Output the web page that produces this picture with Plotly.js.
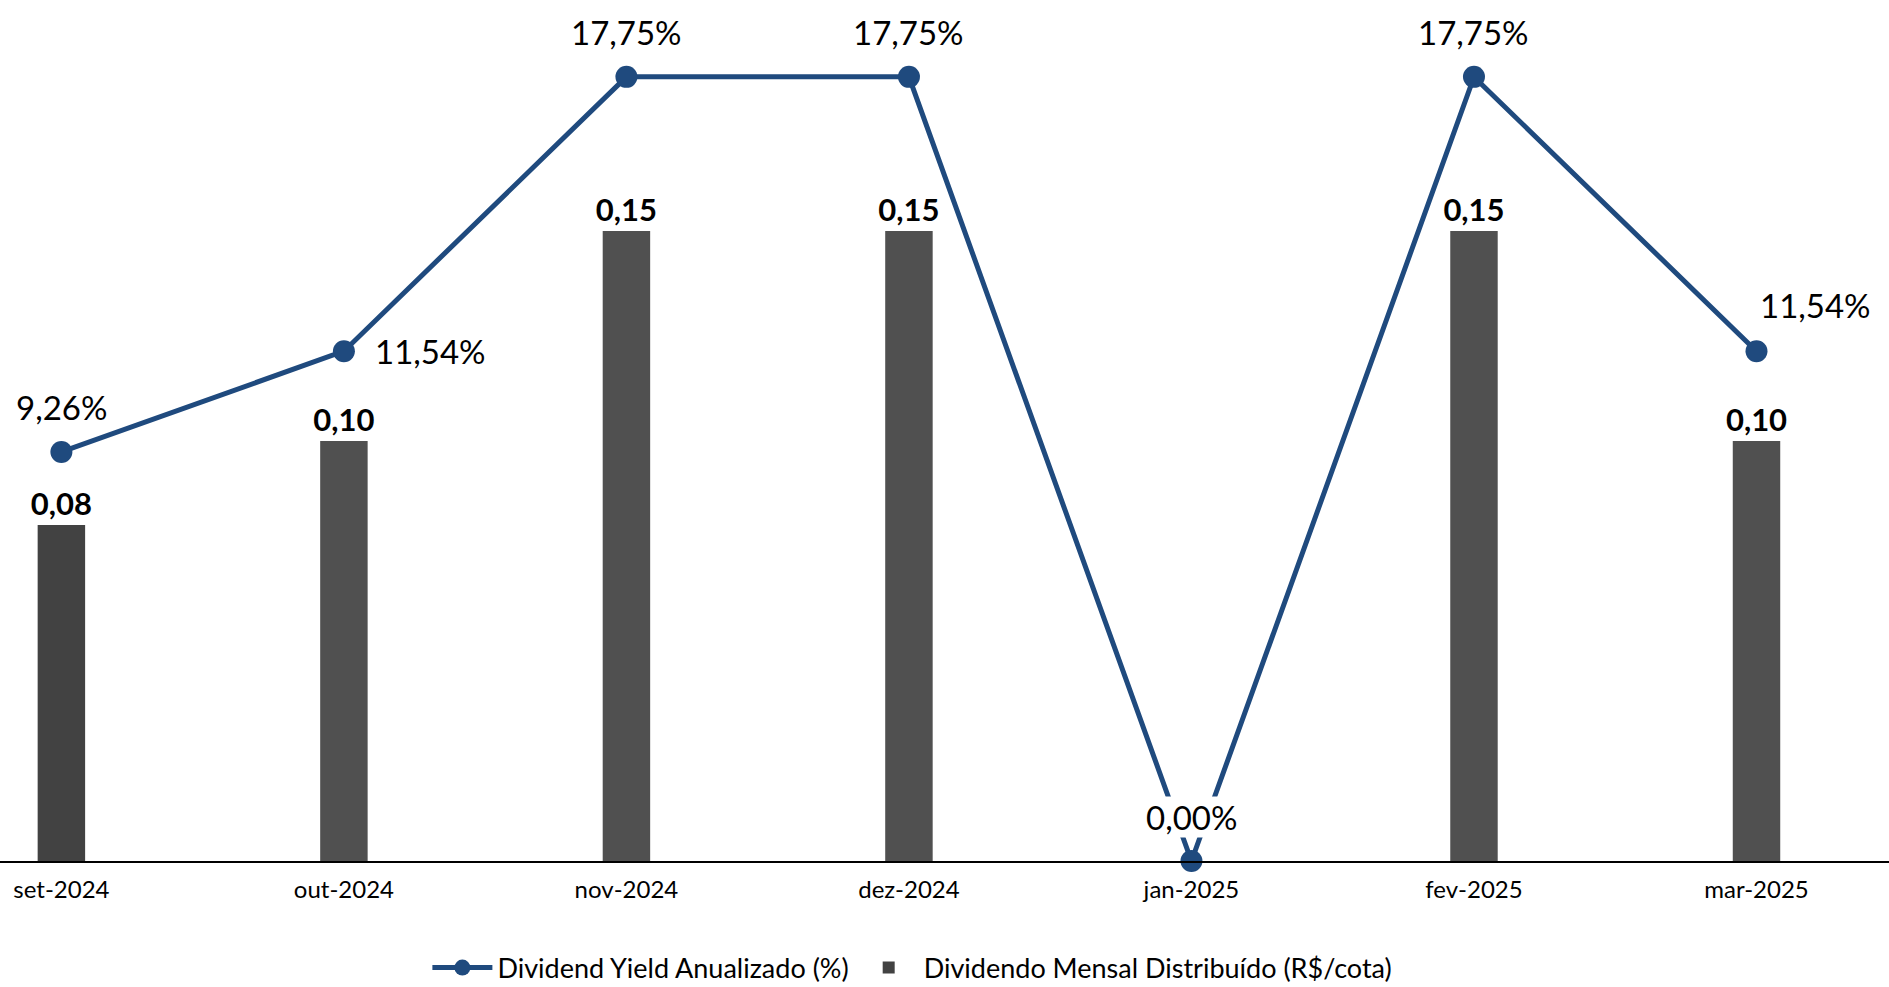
<!DOCTYPE html>
<html><head><meta charset="utf-8">
<script src="https://cdn.plot.ly/plotly-3.0.1.min.js"></script>
<style>html,body{margin:0;padding:0;background:#fff}#chart{width:1889px;height:987px}</style>
</head><body><div id="chart"></div>
<script>
const categories = ['set-2024','out-2024','nov-2024','dez-2024','jan-2025','fev-2025','mar-2025'];
const dividendoMensal = [0.08, 0.10, 0.15, 0.15, null, 0.15, 0.10];
const dividendYield = [9.26, 11.54, 17.75, 17.75, 0.00, 17.75, 11.54];
const lineName = 'Dividend Yield Anualizado (%)';
const barName = 'Dividendo Mensal Distribuído (R$/cota)';

// label placement style (not data): per-point offsets for the yield labels
const labelStyle = [
  {xanchor:'center', yanchor:'middle', xshift:0, yshift:45},
  {xanchor:'left', yanchor:'middle', xshift:30, yshift:0},
  {xanchor:'center', yanchor:'middle', xshift:0, yshift:45},
  {xanchor:'center', yanchor:'middle', xshift:0, yshift:45},
  {xanchor:'center', yanchor:'middle', xshift:0, yshift:44},
  {xanchor:'center', yanchor:'middle', xshift:0, yshift:45},
  {xanchor:'left', yanchor:'middle', xshift:2, yshift:46}
];
const barColors = ['#424242','#505050','#505050','#505050','#505050','#505050','#505050'];
const lineColor = '#1f4a7e';

const fmt = v => v.toFixed(2).replace('.', ',') + '%';

const traces = [
  {
    type:'bar', name:barName, x:categories, y:dividendoMensal, yaxis:'y',
    marker:{color:barColors, line:{width:0}}, width:0.168,
    texttemplate:'%{y:.2f}', textposition:'outside', cliponaxis:false, constraintext:'none',
    textfont:{family:'Lato', size:31, color:'#000', weight:'bold'},
    legendrank:2, hoverinfo:'skip'
  },
  {
    type:'scatter', mode:'lines+markers', name:lineName, x:categories, y:dividendYield, yaxis:'y2',
    line:{color:lineColor, width:5}, marker:{color:lineColor, size:22},
    cliponaxis:false, legendrank:1, hoverinfo:'skip'
  }
];

const annotations = categories.map((c, i) => Object.assign({
  x:c, y:dividendYield[i], xref:'x', yref:'y2', text:fmt(dividendYield[i]),
  showarrow:false, bgcolor:'#ffffff', borderpad:0,
  font:{family:'Lato', size:33, color:'#000'}
}, labelStyle[i]));

const layout = {
  width:1889, height:987,
  margin:{l:0, r:0, t:0, b:126},
  paper_bgcolor:'#ffffff', plot_bgcolor:'#ffffff',
  separators:',.',
  showlegend:true,
  legend:{orientation:'h', x:0.483, xanchor:'center', y:0.044, yref:'container', yanchor:'top',
          font:{family:'Lato', size:27, color:'#000'}, itemwidth:60, traceorder:'normal'},
  xaxis:{type:'category', range:[-0.2173, 6.469], showline:true, linecolor:'#000', linewidth:2,
         ticks:'', ticklabelstandoff:6, showgrid:false, zeroline:false,
         tickfont:{family:'Lato', size:24, color:'#000'}},
  yaxis:{range:[0, 0.205], visible:false, showgrid:false, zeroline:false},
  yaxis2:{range:[0, 19.49], overlaying:'y', visible:false, showgrid:false, zeroline:false},
  annotations:annotations
};

Plotly.newPlot('chart', traces, layout, {displayModeBar:false, staticPlot:true});
</script>
</body></html>
